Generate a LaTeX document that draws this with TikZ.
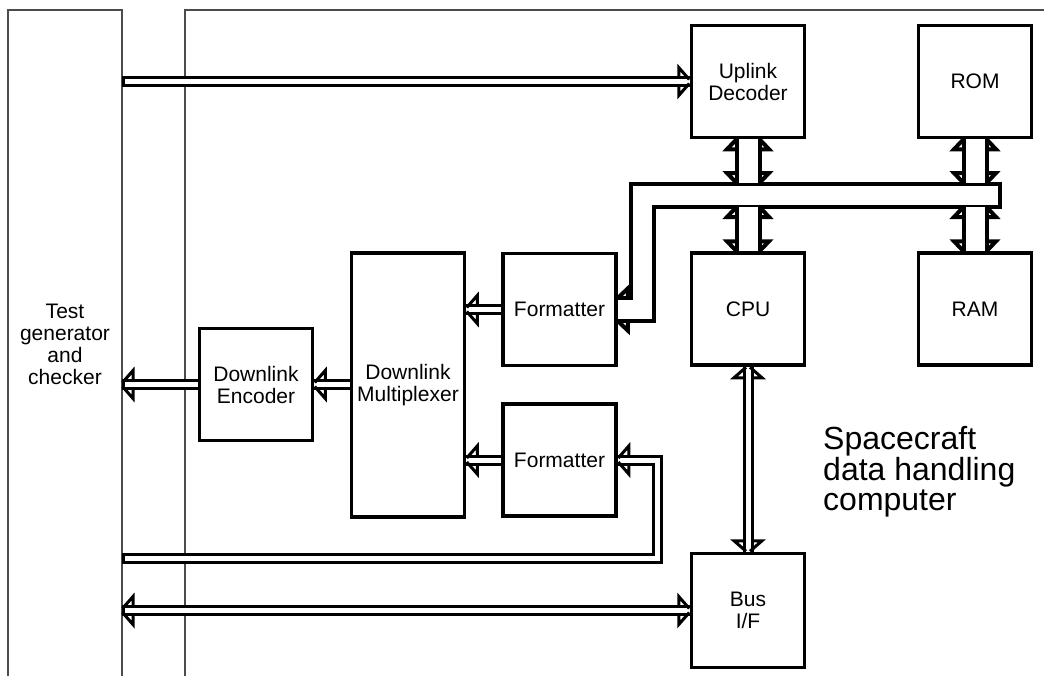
\documentclass[tikz,border=0pt]{standalone}
\usepackage{fontspec}
\setmainfont{Liberation Sans}
\usetikzlibrary{calc}

\newcommand{\lbl}{\fontsize{21pt}{22pt}\selectfont}
\newcommand{\ttl}{\fontsize{32pt}{30.5pt}\selectfont}

\begin{document}
\begin{tikzpicture}[x=1pt, y=-1pt,
  box/.style={draw, line width=3.5pt, minimum width=113pt, minimum height=112pt,
    inner sep=0pt, align=center, font=\lbl},
  frame/.style={draw=black!70, line width=1.2pt},
  thinbus/.style={double, line width=3pt, double distance=5pt},
  widebus/.style={double, line width=4pt, double distance=19pt},
  capbar/.style={line width=3pt},
  % open heads: front at the origin, pointing to +x
  hd/.pic={
    \foreach \s in {1,-1}
      \draw[line width=3pt] (-11,4*\s) -- (-11,14*\s) -- (-0.5,2*\s);
  },
  whd/.pic={
    \foreach \s in {1,-1}
      \draw[line width=4pt] (-10,11.5*\s) -- (-10,21*\s) -- (0,11.5*\s);
  },
]
\useasboundingbox (0,0) rectangle (1044,675);

% --- outer frames ---
\draw[frame] (8,680) |- (122,10) -- (122,680);
\draw[frame] (185,680) |- (1050,10);

% --- blocks ---
\node[box] (uplink) at (748,81.5) {Uplink\\Decoder};
\node[box] (rom) at (975,81.5) {ROM};
\node[box] (cpu) at (748,309) {CPU};
\node[box] (ram) at (975,309) {RAM};
\node[box] (fmtA) at (559.5,309.5) {Formatter};
\node[box] (fmtB) at (559.5,460) {Formatter};
\node[box, minimum height=264pt] (mux) at (408,385) {Downlink\\Multiplexer};
\node[box] (enc) at (256,384.5) {Downlink\\Encoder};
\node[box, minimum height=114pt] (busif) at (748,610.5) {Bus\\I/F};
\node[font=\lbl, align=center] (tester) at (65,344) {Test\\generator\\and\\checker};
\node[font=\ttl, align=left, anchor=west, inner sep=0pt] (title) at (823,472)
  {Spacecraft\\data handling\\computer};

% --- helper points ---
\coordinate (tR) at (122,0);      % right side of tester frame
\coordinate (bustop) at (0,183);
\coordinate (busbot) at (0,207);
\coordinate (busend) at (1000,195);
\coordinate (busturn) at (642,195);
\coordinate (loopx) at (657,558);

% --- thin data paths ---
\draw[thinbus] (tR |- uplink) -- (uplink.west);
\pic at (uplink.west) {hd};
\draw[thinbus] (fmtA.west) -- (mux.east |- fmtA);
\pic[rotate=180] at (mux.east |- fmtA) {hd};
\draw[thinbus] (fmtB.west) -- (mux.east |- fmtB);
\pic[rotate=180] at (mux.east |- fmtB) {hd};
\draw[thinbus] (mux.west |- enc) -- (enc.east);
\pic[rotate=180] at (enc.east) {hd};
\draw[thinbus] (enc.west) -- (tR |- enc);
\pic[rotate=180] at (tR |- enc) {hd};
\draw[thinbus] (tR |- loopx) -| (loopx |- fmtB) -- (fmtB.east);
\pic[rotate=180] at (fmtB.east) {hd};
\draw[thinbus] (cpu.south) -- (busif.north);
\pic[rotate=90] at (cpu.south) {hd};
\pic[rotate=-90] at (busif.north) {hd};
\draw[thinbus] (tR |- busif) -- (busif.west);
\pic[rotate=180] at (tR |- busif) {hd};
\pic at (busif.west) {hd};
\foreach \p in {uplink,enc,loopx,busif}
  \draw[capbar] ($(tR |- \p)+(1.5,-5.5)$) -- ++(0,11);

% --- processor bus ---
\draw[widebus] (busend) -- (busturn) |- (fmtA.east);
\pic[rotate=180] at (fmtA.east) {whd};
\draw[line width=4pt] ($(busend)+(0,-13.5)$) -- ++(0,27);
\foreach \b in {uplink,rom} {
  \draw[widebus] (\b.south) -- (\b.south |- bustop);
  \pic[rotate=90] at (\b.south) {whd};
  \pic[rotate=-90] at (\b.south |- bustop) {whd};
}
\foreach \b in {cpu,ram} {
  \draw[widebus] (\b.north) -- (\b.north |- busbot);
  \pic[rotate=-90] at (\b.north) {whd};
  \pic[rotate=90] at (\b.north |- busbot) {whd};
}
\end{tikzpicture}
\end{document}
